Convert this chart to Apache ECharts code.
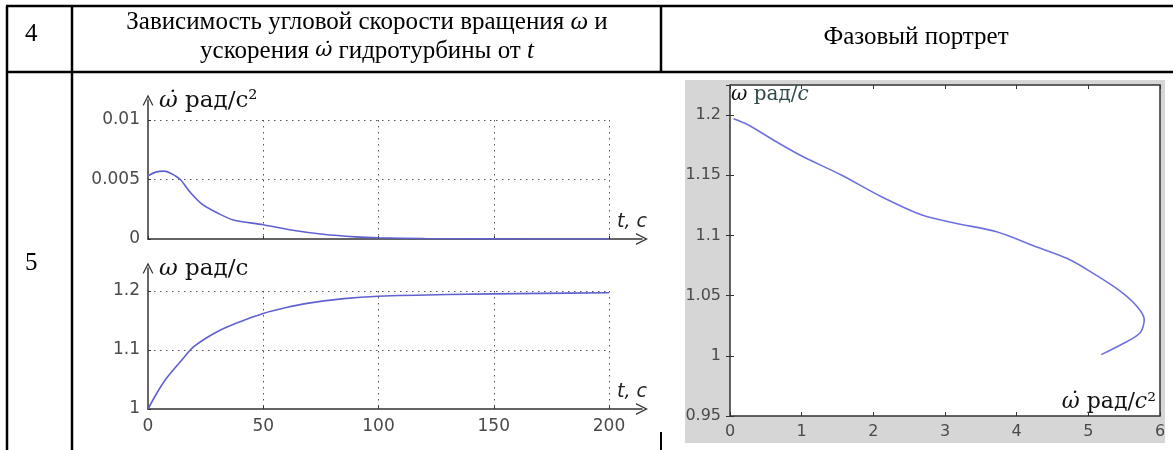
<!DOCTYPE html>
<html>
<head>
<meta charset="utf-8">
<script src="https://cdn.jsdelivr.net/npm/echarts@6/dist/echarts.min.js"></script>
<style>html,body{margin:0;padding:0;background:#fff}#c{width:1173px;height:450px}</style>
</head>
<body>
<div id="c"></div>
<script>
// ---- data ----
const accTime = [0, 3, 7, 10, 14, 18, 23, 30, 37, 50, 62, 76, 90, 100, 120, 150, 175, 200];
const accValues = [0.0053, 0.0056, 0.0057, 0.0055, 0.0050, 0.0040, 0.0030, 0.0022, 0.0016, 0.0012, 0.00076, 0.00040, 0.00018, 0.0001, 0.00004, 0.00001, 0, 0];
const omegaTime = [0, 4, 8, 14, 20, 30, 40, 50, 60, 69, 85, 100, 130, 170, 200];
const omegaValues = [1.0, 1.028, 1.052, 1.080, 1.106, 1.131, 1.148, 1.162, 1.172, 1.179, 1.187, 1.191, 1.194, 1.196, 1.197];
const phaseAcc = [0.05, 0.25, 0.67, 1.0, 1.56, 2.12, 2.68, 3.16, 3.72, 4.3, 4.7, 5.0, 5.44, 5.68, 5.78, 5.72, 5.48, 5.18];
const phaseOmega = [1.197, 1.192, 1.177, 1.166, 1.150, 1.132, 1.117, 1.110, 1.103, 1.090, 1.081, 1.071, 1.054, 1.041, 1.030, 1.019, 1.010, 1.001];

const headerLine1 = ['Зависимость угловой скорости вращения ', 'ω', ' и'];
const headerLine2 = ['ускорения ', 'ω̇', ' гидротурбины от ', 't'];
const phaseTitle = 'Фазовый портрет';
const rowLabels = ['4', '5'];

const accPairs = accTime.map((t, i) => [t, accValues[i]]);
const omegaPairs = omegaTime.map((t, i) => [t, omegaValues[i]]);
const phasePairs = phaseAcc.map((a, i) => [a, phaseOmega[i]]);

const lineColor = '#6060d0';
const axisColor = '#333';
const labelColor = '#4a4a4a';
const sans = 'DejaVu Sans';
const serif = 'Liberation Serif';
const markSerif = 'DejaVu Serif';
const arrowPath = 'path://M0,10 L5,0 L10,10 L8.8,10 L5,2.4 L1.2,10 Z';
const dotted = { color: '#555', width: 1, type: [1.5, 4.5] };

const chart = echarts.init(document.getElementById('c'), null, { renderer: 'canvas' });

function dataX(grid, showLabels) {
  return {
    type: 'value', gridIndex: grid, min: 0, max: 200, interval: 50,
    axisLine: { show: false },
    axisTick: { show: true, inside: true, length: 3, lineStyle: { color: axisColor } },
    axisLabel: { show: showLabels, color: labelColor, fontFamily: sans, fontSize: 17, margin: 9 },
    splitLine: { show: true, showMinLine: false, lineStyle: dotted }
  };
}
function arrowX(grid) {
  return {
    type: 'value', gridIndex: grid, min: 0, max: 1,
    axisLine: { show: true, symbol: ['none', arrowPath], symbolSize: [12, 14], lineStyle: { color: axisColor, width: 1.5 } },
    axisTick: { show: false }, axisLabel: { show: false }, splitLine: { show: false },
    name: 't, c', nameLocation: 'end', nameGap: -25,
    nameTextStyle: { fontFamily: sans, fontStyle: 'italic', fontSize: 19, color: '#222', align: 'left', verticalAlign: 'bottom', padding: [0, 0, 7, 0] }
  };
}
function arrowY(grid, name) {
  return {
    type: 'value', gridIndex: grid, min: 0, max: 1,
    axisLine: { show: true, symbol: ['none', arrowPath], symbolSize: [11, 11], lineStyle: { color: axisColor, width: 1.5 } },
    axisTick: { show: false }, axisLabel: { show: false }, splitLine: { show: false },
    name: name, nameLocation: 'end', nameGap: -1,
    nameTextStyle: { fontFamily: markSerif, fontSize: 23, color: '#111', align: 'left', verticalAlign: 'middle', padding: [0, 0, 0, 11],
      rich: { w: { fontFamily: markSerif, fontStyle: 'italic', fontSize: 23, color: '#111' } } }
  };
}

const phaseX = {
  type: 'value', gridIndex: 4, min: 0, max: 6, interval: 1,
  axisLine: { show: false },
  axisTick: { show: true, inside: true, length: 4, lineStyle: { color: '#333' } },
  axisLabel: { color: labelColor, fontFamily: sans, fontSize: 16, margin: 8 },
  splitLine: { show: false },
  name: '{w|ω̇} рад/{i|c}²', nameLocation: 'end', nameGap: -4,
  nameTextStyle: {
    fontFamily: markSerif, fontSize: 22, color: '#111', align: 'right', verticalAlign: 'bottom', padding: [0, 0, 3, 0],
    rich: {
      w: { fontFamily: markSerif, fontStyle: 'italic', fontSize: 22, color: '#111' },
      i: { fontFamily: markSerif, fontStyle: 'italic', fontSize: 22, color: '#111' }
    }
  }
};
const phaseY = {
  type: 'value', gridIndex: 4, min: 0.95, max: 1.225, interval: 0.05,
  axisLine: { show: false },
  axisTick: { show: true, inside: true, length: 4, lineStyle: { color: '#333' } },
  axisLabel: { color: labelColor, fontFamily: sans, fontSize: 16, margin: 9, showMaxLabel: false },
  splitLine: { show: false },
  name: '{w|ω} {t|рад/}{i|с}', nameLocation: 'end', nameGap: -10,
  nameTextStyle: {
    fontFamily: markSerif, fontSize: 20, color: '#223', align: 'left', verticalAlign: 'middle', padding: [0, 0, 0, 1],
    rich: {
      w: { fontFamily: markSerif, fontStyle: 'italic', fontSize: 20, color: '#111' },
      t: { fontFamily: markSerif, fontSize: 20, color: '#2f4a4a' },
      i: { fontFamily: markSerif, fontStyle: 'italic', fontSize: 20, color: '#2f4a4a' }
    }
  }
};

const option = {
  animation: false,
  backgroundColor: '#fff',
  grid: [
    { left: 148, top: 120, width: 461, height: 119 },
    { left: 148, top: 100, width: 494, height: 139 },
    { left: 148, top: 291, width: 461, height: 118 },
    { left: 148, top: 268, width: 494, height: 141 },
    { left: 730, top: 85, width: 430, height: 331, show: true, backgroundColor: '#fff', borderColor: '#333', borderWidth: 1.5 }
  ],
  xAxis: [
    dataX(0, false),
    arrowX(1),
    dataX(2, true),
    arrowX(3),
    phaseX,
    { type: 'value', gridIndex: 4, min: 0, max: 6, interval: 1, position: 'top',
      axisLine: { show: false }, axisLabel: { show: false }, splitLine: { show: false },
      axisTick: { show: true, inside: true, length: 4, lineStyle: { color: '#333' } } }
  ],
  yAxis: [
    { type: 'value', gridIndex: 0, min: 0, max: 0.01, interval: 0.005,
      axisLine: { show: false },
      axisTick: { show: true, inside: true, length: 3, lineStyle: { color: axisColor } },
      axisLabel: { color: labelColor, fontFamily: sans, fontSize: 17, margin: 8 },
      splitLine: { show: true, showMinLine: false, lineStyle: dotted } },
    arrowY(1, '{w|ω̇} рад/с²'),
    { type: 'value', gridIndex: 2, min: 1, max: 1.2, interval: 0.1,
      axisLine: { show: false },
      axisTick: { show: true, inside: true, length: 3, lineStyle: { color: axisColor } },
      axisLabel: { color: labelColor, fontFamily: sans, fontSize: 17, margin: 8 },
      splitLine: { show: true, showMinLine: false, lineStyle: dotted } },
    arrowY(3, '{w|ω} рад/с'),
    phaseY,
    { type: 'value', gridIndex: 4, min: 0.95, max: 1.225, interval: 0.05, position: 'right',
      axisLine: { show: false }, axisLabel: { show: false }, splitLine: { show: false },
      axisTick: { show: true, inside: true, length: 4, lineStyle: { color: '#333' } } }
  ],
  series: [
    { type: 'line', xAxisIndex: 0, yAxisIndex: 0, data: accPairs, smooth: 0.3, showSymbol: false,
      lineStyle: { color: lineColor, width: 1.6 }, z: 5 },
    { type: 'line', xAxisIndex: 2, yAxisIndex: 2, data: omegaPairs, smooth: 0.3, showSymbol: false,
      lineStyle: { color: lineColor, width: 1.6 }, z: 5 },
    { type: 'line', xAxisIndex: 4, yAxisIndex: 4, data: phasePairs, smooth: 0.3, showSymbol: false,
      lineStyle: { color: '#7070e0', width: 1.6 }, z: 5 }
  ],
  graphic: [
    { type: 'rect', z: -10, shape: { x: 685, y: 80, width: 480, height: 363 }, style: { fill: '#d6d6d6' } },
    { type: 'line', shape: { x1: 6, y1: 6, x2: 1173, y2: 6 }, style: { stroke: '#000', lineWidth: 2.5 } },
    { type: 'line', shape: { x1: 6, y1: 72, x2: 1173, y2: 72 }, style: { stroke: '#000', lineWidth: 2.5 } },
    { type: 'line', shape: { x1: 7, y1: 6, x2: 7, y2: 450 }, style: { stroke: '#000', lineWidth: 2.5 } },
    { type: 'line', shape: { x1: 72, y1: 6, x2: 72, y2: 450 }, style: { stroke: '#000', lineWidth: 2.5 } },
    { type: 'line', shape: { x1: 661, y1: 6, x2: 661, y2: 72 }, style: { stroke: '#000', lineWidth: 2.5 } },
    { type: 'line', shape: { x1: 661, y1: 432, x2: 661, y2: 450 }, style: { stroke: '#000', lineWidth: 2 } },
    { type: 'text', x: 25, y: 34, style: { text: rowLabels[0], verticalAlign: 'middle', font: '25px "Liberation Serif"', fill: '#000' } },
    { type: 'text', x: 25, y: 263, style: { text: rowLabels[1], verticalAlign: 'middle', font: '25px "Liberation Serif"', fill: '#000' } },
    { type: 'text', x: 367, y: 22, style: {
        text: '{n|' + headerLine1[0] + '}{i|' + headerLine1[1] + '}{n|' + headerLine1[2] + '}',
        align: 'center', verticalAlign: 'middle',
        rich: { n: { fontFamily: serif, fontSize: 25, fill: '#000' }, i: { fontFamily: serif, fontStyle: 'italic', fontSize: 25, fill: '#000' } } } },
    { type: 'text', x: 367, y: 51, style: {
        text: '{n|' + headerLine2[0] + '}{m|' + headerLine2[1] + '}{n|' + headerLine2[2] + '}{i|' + headerLine2[3] + '}',
        align: 'center', verticalAlign: 'middle',
        rich: { n: { fontFamily: serif, fontSize: 25, fill: '#000' }, m: { fontFamily: markSerif, fontStyle: 'italic', fontSize: 21, fill: '#000' }, i: { fontFamily: serif, fontStyle: 'italic', fontSize: 25, fill: '#000' } } } },
    { type: 'text', x: 916, y: 37, style: { text: phaseTitle, align: 'center', verticalAlign: 'middle', font: '25px "Liberation Serif"', fill: '#000' } }
  ]
};
chart.setOption(option);
</script>
</body>
</html>
